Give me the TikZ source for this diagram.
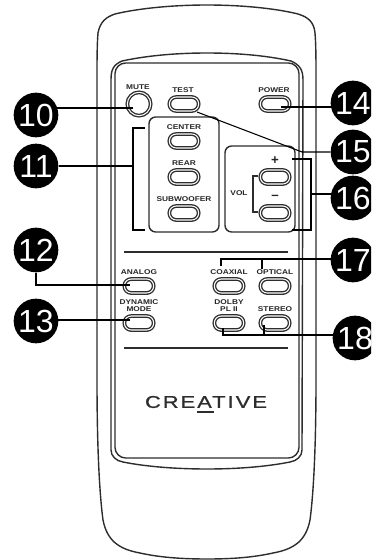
\documentclass[tikz,border=0pt]{standalone}
\usepackage{fontspec}
\setmainfont{Liberation Sans}
\newfontfamily\keyfont[FakeStretch=1.2]{Liberation Sans}
\newfontfamily\logofont[FakeStretch=1.28,LetterSpace=12,FakeBold=1.2]{Liberation Sans}
\usetikzlibrary{backgrounds}
\definecolor{bodyline}{RGB}{45,45,45}

\tikzset{
  shell/.style={draw=bodyline, line width=1.05pt},
  panel/.style={draw=bodyline, line width=1.05pt, rounded corners=5pt},
  keybtn/.style={draw=bodyline, line width=1pt, double=white, double distance=0.8pt,
    rectangle, rounded corners=5.2pt, minimum width=22pt, minimum height=10.5pt, inner sep=0pt},
  mutebtn/.style={draw=bodyline, line width=1pt, double=white, double distance=0.8pt,
    circle, minimum size=17.5pt, inner sep=0pt},
  keylabel/.style={font=\keyfont\bfseries\fontsize{5.2}{5.4}\selectfont, align=center,
    inner sep=0pt, text=black!85},
  callout/.style={circle, fill=black, text=white, minimum size=33.5pt, inner sep=0pt,
    font=\fontsize{24}{24}\selectfont},
  lead/.style={draw=black, line width=1.2pt, line cap=butt},
}

\begin{document}
\begin{tikzpicture}[x=0.75pt, y=-0.75pt]
  \clip (0,0) rectangle (371,560);

  % numbered circles
  \foreach \name/\x/\y/\num in {c10/36/115/10, c11/36/166/11, c12/36/250/12, c13/36/321/13,
    c14/353/103/14, c15/353/152/15, c16/353/198/16, c17/353/260/17, c18/355/338/18}{
    \node[callout] (\name) at (\x,\y) {\num};
  }

  \begin{scope}[on background layer]
    % outer body
    \draw[shell] (97,80) .. controls (97,60) and (97,45) .. (98,33)
      .. controls (100,22) and (106,17) .. (115,14)
      .. controls (140,8) and (175,5) .. (207,5)
      .. controls (239,5) and (274,8) .. (298,14)
      .. controls (308,17) and (314,22) .. (315,33)
      .. controls (316,45) and (316,60) .. (316,80)
      -- (316,380) .. controls (316,440) and (314,490) .. (310,520)
      .. controls (306,540) and (295,549) .. (273,553)
      .. controls (255,557) and (235,559) .. (207,559)
      .. controls (179,559) and (158,557) .. (140,553)
      .. controls (118,549) and (107,540) .. (103,520)
      .. controls (99,490) and (97,440) .. (97,380) -- cycle;

    % inner plate
    \draw[shell] (111,80) .. controls (111,70) and (113,65) .. (122,61)
      .. controls (150,55) and (180,53) .. (207,53)
      .. controls (234,53) and (264,55) .. (291,61)
      .. controls (300,65) and (303,70) .. (303,80)
      -- (302,450) .. controls (302,456) and (297,461) .. (290,462)
      .. controls (265,467) and (235,469) .. (207,469)
      .. controls (179,469) and (148,467) .. (123,462)
      .. controls (116,461) and (111,456) .. (111,450) -- cycle;
    \draw[shell, rounded corners=8pt] (115,63) rectangle (299,458);

    % panels and rules
    \draw[panel] (149,117) rectangle (219,232);
    \draw[panel] (225,146) rectangle (295,232);
    \draw[bodyline, line width=1.8pt] (124,252) -- (288,252);
    \draw[bodyline, line width=1.8pt] (124,348) -- (288,348);

    % buttons
    \node[mutebtn] (mute) at (139,104) {};
    \foreach \name/\x/\y in {test/184/104, power/275/104, center/184/141, rear/184/177,
      subwoofer/184/213, volup/275/177, voldown/275/213, analog/139/286, dynamic/139/323,
      coaxial/229/286, optical/275/286, dolby/229/323, stereo/275/323}{
      \node[keybtn] (\name) at (\x,\y) {};
    }

    % button labels
    \foreach \name/\x/\y/\txt in {lmute/138/87/MUTE, ltest/183/90/TEST, lpower/274/90/POWER,
      lcenter/184/127/CENTER, lrear/184/163/REAR, lsubwoofer/184/199/SUBWOOFER,
      lvol/239/193/VOL, lanalog/139/272/ANALOG, ldynamic/139/305.5/{DYNAMIC\\MODE},
      lcoaxial/229/272/COAXIAL, loptical/275/272/OPTICAL, ldolby/229/305.5/{DOLBY\\PL II},
      lstereo/275/309/STEREO}{
      \node[keylabel] (\name) at (\x,\y) {\txt};
    }
    \node[keylabel, font=\bfseries\fontsize{10}{10}\selectfont] (lplus) at (275,161) {+};
    \node[keylabel, font=\bfseries\fontsize{10}{10}\selectfont] (lminus) at (275,197) {--};

    % vol bracket
    \draw[bodyline, line width=0.9pt] (258,176) -- (253,176) -- (253,212) -- (258,212);

    % logo
    \node[inner sep=0pt, text=bodyline, font=\logofont\fontsize{12.8}{12.8}\selectfont] (logo) at (206,402) {CREATIVE};
    \draw[bodyline, line width=1.2pt] (197,412) -- (214,412);

    % free ends of the leads
    \coordinate (t10) at (133,108);
    \coordinate (t11) at (133,166);
    \coordinate (t11a) at (145,128);
    \coordinate (t11b) at (145,230);
    \coordinate (t12) at (130,285);
    \coordinate (t13) at (130,320);
    \coordinate (t14) at (281,107);
    \coordinate (t15) at (302,152);
    \coordinate (t15b) at (197,112);
    \coordinate (t16) at (311,194);
    \coordinate (t16a) at (292,159);
    \coordinate (t16b) at (292,230);
    \coordinate (t17) at (221,259);
    \coordinate (t17a) at (221,266);
    \coordinate (t17b) at (262,259);
    \coordinate (t17c) at (262,269);
    \coordinate (t18) at (223,335);
    \coordinate (t18a) at (223,328);
    \coordinate (t18b) at (264,335);
    \coordinate (t18c) at (264,325);

    % leads
    \draw[lead] (c10 |- t10) -- (t10);
    \draw[lead] (c11) -- (t11);
    \draw[lead] (t11a) -- (t11a -| t11) -- (t11b -| t11) -- (t11b);
    \draw[lead] (c12) -- (c12 |- t12) -- (t12);
    \draw[lead] (c13 |- t13) -- (t13);
    \draw[lead] (c14 |- t14) -- (t14);
    \draw[lead, line width=0.8pt] (c15) -- (t15) -- (t15b);
    \draw[lead] (c16 |- t16) -- (t16);
    \draw[lead] (t16a) -- (t16a -| t16) -- (t16b -| t16) -- (t16b);
    \draw[lead] (c17 |- t17) -- (t17) -- (t17a);
    \draw[lead] (t17b) -- (t17c);
    \draw[lead] (c18 |- t18) -- (t18) -- (t18a);
    \draw[lead] (t18b) -- (t18c);
  \end{scope}
\end{tikzpicture}
\end{document}
